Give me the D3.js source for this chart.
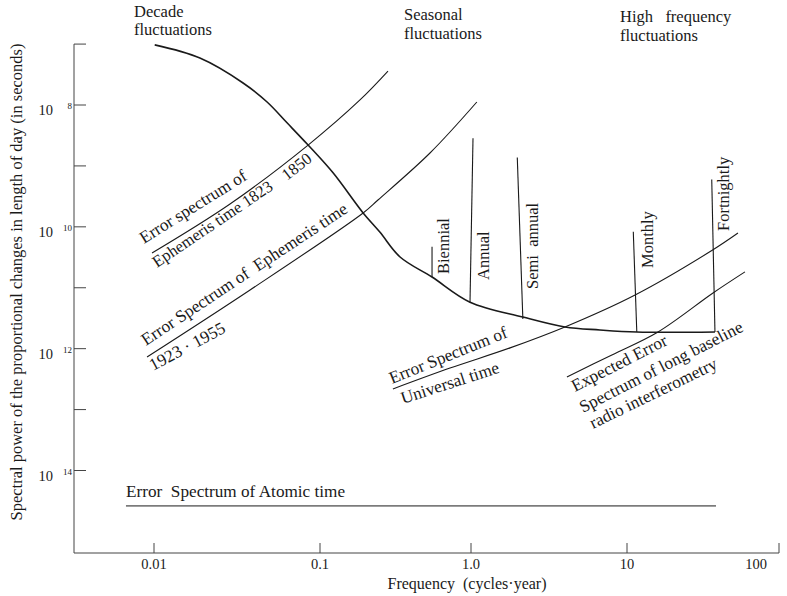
<!DOCTYPE html>
<html>
<head>
<meta charset="utf-8">
<script src="https://cdn.jsdelivr.net/npm/d3@7"></script>
<style>
  html, body { margin: 0; padding: 0; background: #fff; }
  svg { display: block; }
  text { font-family: "Liberation Serif", "DejaVu Serif", serif; fill: #1a1a1a; white-space: pre; }
</style>
</head>
<body>
<svg id="chart" width="787" height="596"></svg>
<script>
// ---------------- data ----------------
const xTickValues = [0.01, 0.1, 1, 10, 100];
const xTickLabels = ["0.01", "0.1", "1.0", "10", "100"];
const yMajorTicks = [1e-8, 1e-10, 1e-12, 1e-14];
const yMajorExpLabels = ["8", "10", "12", "14"];
const yMinorTicks = [1e-7, 1e-9, 1e-11, 1e-13];

// Decade-fluctuation / observed spectrum curve
const decadeFreq  = [0.0101, 0.0189, 0.0344, 0.048, 0.0633, 0.0848, 0.122, 0.193, 0.249, 0.339, 0.552, 0.985, 2.15, 4.0, 6.7, 11.6, 37.9];
const decadePower = [9.7e-8, 5.9e-8, 2.3e-8, 1.12e-8, 5.1e-9, 2.2e-9, 7.7e-10, 1.69e-10, 8.2e-11, 3.2e-11, 1.5e-11, 5.8e-12, 3.3e-12, 2.27e-12, 2.03e-12, 1.88e-12, 1.88e-12];

// Error spectrum of Ephemeris time 1823-1850
const eph1Freq  = [0.00973, 0.0287, 0.0848, 0.184, 0.282];
const eph1Power = [3.72e-11, 2.37e-10, 2.2e-9, 1.21e-8, 3.6e-8];

// Error spectrum of Ephemeris time 1923-1955
const eph2Freq  = [0.00908, 0.0379, 0.193, 0.242, 0.535, 1.09];
const eph2Power = [7.3e-13, 9.2e-12, 1.69e-10, 2.76e-10, 1.63e-9, 1.12e-8];

// Error spectrum of Universal time
const utFreq  = [0.304, 0.726, 1.78, 4.0, 11.3, 36.8, 53.7];
const utPower = [2.18e-13, 4.8e-13, 1.03e-12, 2.27e-12, 7.6e-12, 4.2e-11, 7.9e-11];

// Expected error spectrum of long baseline radio interferometry
const radioFreq  = [4.12, 8.0, 16.0, 36.8, 59.7];
const radioPower = [3.43e-13, 7.9e-13, 1.88e-12, 8.2e-12, 1.82e-11];

// Error spectrum of Atomic time
const atomicFreq  = [0.00678, 38.5];
const atomicPower = [2.62e-15, 2.62e-15];

// Spectral lines
const lineNames    = ["Biennial", "Annual", "Semi  annual", "Monthly", "Fortnightly"];
const lineFreqTop  = [0.552, 1.03, 1.98, 11.0, 36.1];
const lineFreqFoot = [0.552, 0.985, 2.15, 11.6, 37.9];
const linePowerTop = [4.7e-11, 2.84e-9, 1.38e-9, 8.3e-11, 6.0e-10];
const linePowerFoot= [1.5e-11, 5.8e-12, 3.07e-12, 1.88e-12, 1.88e-12];

// ---------------- drawing ----------------
const svg = d3.select("#chart");
const ink = "#1a1a1a";

const x = d3.scaleLog().domain(xTickValues).range([154, 320, 471, 627, 779]);
const y = d3.scaleLog().domain([1e-14, 1e-8]).range([470.5, 105]);

const axisX0 = 74, axisY0 = 553;
const yTop = y(1e-7);

// axes lines
svg.append("line").attr("x1", axisX0).attr("x2", axisX0).attr("y1", yTop).attr("y2", axisY0)
  .attr("stroke", "#444").attr("stroke-width", 1);
svg.append("line").attr("x1", axisX0).attr("x2", x(100)).attr("y1", axisY0).attr("y2", axisY0)
  .attr("stroke", "#444").attr("stroke-width", 1);

// y ticks
svg.selectAll(".ytick").data(yMajorTicks.concat(yMinorTicks)).join("line")
  .attr("x1", axisX0).attr("x2", axisX0 + 12)
  .attr("y1", d => y(d)).attr("y2", d => y(d))
  .attr("stroke", "#444").attr("stroke-width", 1);

// y tick labels "10" with superscript
const yl = svg.selectAll(".ylab").data(yMajorTicks).join("g");
yl.append("text").attr("x", 53).attr("y", d => y(d) + 10)
  .attr("text-anchor", "end").attr("font-size", 14.5).text("10");
yl.append("text").attr("x", 72).attr("y", (d) => y(d) + 4)
  .attr("text-anchor", "end").attr("font-size", 9).text((d, i) => yMajorExpLabels[i]);

// x ticks
svg.selectAll(".xtick").data(xTickValues).join("line")
  .attr("x1", d => x(d)).attr("x2", d => x(d))
  .attr("y1", axisY0).attr("y2", axisY0 - 10)
  .attr("stroke", "#444").attr("stroke-width", 1);
svg.selectAll(".xlab").data(xTickValues).join("text")
  .attr("x", (d, i) => x(d) - (i === xTickValues.length - 1 ? 23 : 0)).attr("y", 569)
  .attr("text-anchor", "middle").attr("font-size", 14.5)
  .text((d, i) => xTickLabels[i]);

// axis titles
svg.append("text").attr("x", 467).attr("y", 589).attr("text-anchor", "middle")
  .attr("font-size", 16).text("Frequency  (cycles·year)");
svg.append("text").attr("transform", "translate(22,282) rotate(-90)")
  .attr("text-anchor", "middle").attr("font-size", 16.5)
  .text("Spectral power of the proportional changes in length of day (in seconds)");

// curves
const lineGen = d3.line().x(d => x(d[0])).y(d => y(d[1])).curve(d3.curveCatmullRom.alpha(0.5));
function curve(fs, ps, w) {
  svg.append("path").datum(fs.map((f, i) => [f, ps[i]]))
    .attr("d", lineGen).attr("fill", "none").attr("stroke", ink).attr("stroke-width", w);
}
curve(decadeFreq, decadePower, 1.6);
curve(eph1Freq, eph1Power, 1.1);
curve(eph2Freq, eph2Power, 1.1);
curve(utFreq, utPower, 1.1);
curve(radioFreq, radioPower, 1.1);
curve(atomicFreq, atomicPower, 1.0);

// spectral lines
svg.selectAll(".sline").data(lineNames).join("line")
  .attr("x1", (d, i) => x(lineFreqTop[i])).attr("y1", (d, i) => y(linePowerTop[i]))
  .attr("x2", (d, i) => x(lineFreqFoot[i])).attr("y2", (d, i) => y(linePowerFoot[i]))
  .attr("stroke", ink).attr("stroke-width", 1.1);

// spectral line labels (rotated)
const lineLabelPos = [[443, 274], [483, 280], [532, 289], [647, 268], [723, 231]];
svg.selectAll(".slab").data(lineNames).join("text")
  .attr("transform", (d, i) => `translate(${lineLabelPos[i][0]},${lineLabelPos[i][1]}) rotate(-90)`)
  .attr("dominant-baseline", "central").attr("font-size", 16.5)
  .text(d => d);

// header annotations
const headers = [
  {x: 134, ys: [16.5, 35], lines: ["Decade", "fluctuations"]},
  {x: 404, ys: [20, 38.5], lines: ["Seasonal", "fluctuations"]},
  {x: 620, ys: [22, 41], lines: ["High   frequency", "fluctuations"]}
];
headers.forEach(h => h.lines.forEach((t, i) =>
  svg.append("text").attr("x", h.x).attr("y", h.ys[i]).attr("font-size", 16.5).text(t)));

// rotated curve annotations
const notes = [
  ["Error spectrum of", 144, 244, -32, 17.3],
  ["Ephemeris time 1823", 157, 268, -34, 16.5],
  ["1850", 287, 181, -38, 16.5],
  ["Error Spectrum of  Ephemeris time", 146, 346, -33.5, 17.3],
  ["1923 · 1955", 153, 371, -28, 17.3],
  ["Error Spectrum of", 392, 384, -22, 17.3],
  ["Universal time", 403, 404, -18, 17.3],
  ["Expected Error", 575, 392, -27, 17.3],
  ["Spectrum of long baseline", 583, 413, -27, 17.3],
  ["radio interferometry", 593, 429, -26, 17.3]
];
notes.forEach(([t, nx, ny, a, fs]) =>
  svg.append("text").attr("transform", `translate(${nx},${ny}) rotate(${a})`)
    .attr("font-size", fs).text(t));

svg.append("text").attr("x", 126).attr("y", 497).attr("font-size", 17.2)
  .text("Error  Spectrum of Atomic time");
</script>
</body>
</html>
